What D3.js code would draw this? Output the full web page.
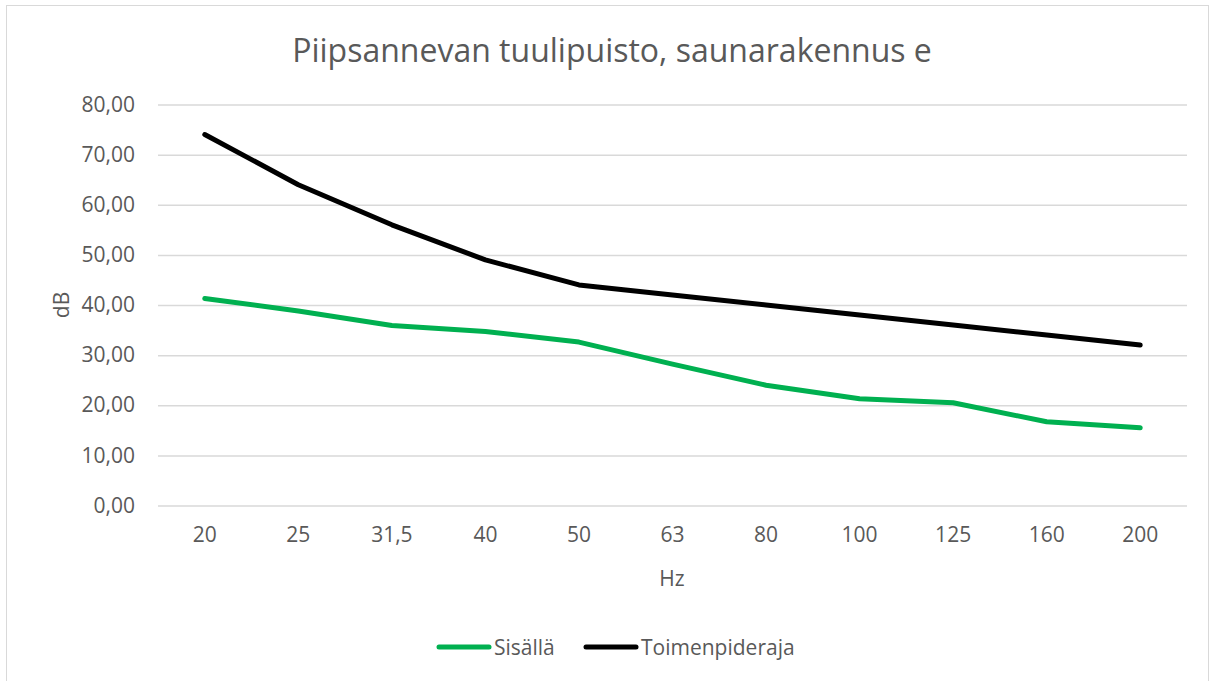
<!DOCTYPE html>
<html lang="fi">
<head>
  <meta charset="UTF-8">
  <title>Piipsannevan tuulipuisto, saunarakennus e</title>
  <script src="https://cdn.jsdelivr.net/npm/d3@7"></script>
  <style>
    body {
      margin: 0;
      padding: 0;
      background: #fff;
      font-family: "Open Sans", "Liberation Sans", Arial, sans-serif;
    }
    .tick text { fill: #595959; }
  </style>
</head>
<body>
  <div id="chart"></div>

  <script>
    // chart data
    var categories = ["20", "25", "31,5", "40", "50", "63", "80", "100", "125", "160", "200"];
    var sisalla = [41.3, 38.8, 35.9, 34.7, 32.6, 28.2, 24.0, 21.3, 20.5, 16.7, 15.5];
    var toimenpideraja = [74, 64, 56, 49, 44, 42, 40, 38, 36, 34, 32];
    var yTicks = [0, 10, 20, 30, 40, 50, 60, 70, 80];
    var seriesNames = ["Sisällä", "Toimenpideraja"];
    var seriesColors = ["#00B050", "#000000"];

    var width = 1217, height = 681;
    var margin = { top: 104.5, right: 30, bottom: 175, left: 158 };
    var plotW = 1187 - margin.left;
    var plotH = 505.5 - margin.top;
    var textColor = "#595959";
    var labelSize = 21;

    var svg = d3.select("#chart")
      .append("svg")
      .attr("width", width)
      .attr("height", height);

    // outer chart border
    svg.append("rect")
      .attr("x", 6.5)
      .attr("y", 5.5)
      .attr("width", 1202)
      .attr("height", 700)
      .attr("fill", "#fff")
      .attr("stroke", "#D9D9D9")
      .attr("stroke-width", 1);

    var g = svg.append("g")
      .attr("transform", "translate(" + margin.left + "," + margin.top + ")");

    var x = d3.scaleBand()
      .domain(categories)
      .range([0, plotW]);

    var y = d3.scaleLinear()
      .domain([0, 80])
      .range([plotH, 0]);

    // gridlines + y labels
    var yAxis = d3.axisLeft(y)
      .tickValues(yTicks)
      .tickSize(-plotW)
      .tickPadding(23)
      .tickFormat(d => d3.format(".2f")(d).replace(".", ","));

    var yg = g.append("g").call(yAxis);
    yg.select(".domain").remove();
    yg.selectAll(".tick line")
      .attr("stroke", "#D9D9D9")
      .attr("stroke-width", 1.5);
    yg.selectAll(".tick text")
      .attr("font-size", labelSize)
      .attr("font-family", "Open Sans, sans-serif");

    // x labels
    var xAxis = d3.axisBottom(x)
      .tickSize(0)
      .tickPadding(22);
    var xg = g.append("g")
      .attr("transform", "translate(0," + plotH + ")")
      .call(xAxis);
    xg.select(".domain").remove();
    xg.selectAll(".tick text")
      .attr("font-size", labelSize)
      .attr("font-family", "Open Sans, sans-serif");

    // lines
    var line = d3.line()
      .x((d, i) => x(categories[i]) + x.bandwidth() / 2)
      .y(d => y(d));

    [sisalla, toimenpideraja].forEach(function (vals, k) {
      g.append("path")
        .datum(vals)
        .attr("fill", "none")
        .attr("stroke", seriesColors[k])
        .attr("stroke-width", 5)
        .attr("stroke-linejoin", "round")
        .attr("stroke-linecap", "round")
        .attr("d", line);
    });

    // title
    svg.append("text")
      .attr("x", 612)
      .attr("y", 62)
      .attr("text-anchor", "middle")
      .attr("fill", textColor)
      .attr("font-size", 32)
      .text("Piipsannevan tuulipuisto, saunarakennus e");

    // axis titles
    svg.append("text")
      .attr("x", 672)
      .attr("y", 586)
      .attr("text-anchor", "middle")
      .attr("fill", textColor)
      .attr("font-size", 21)
      .text("Hz");

    svg.append("text")
      .attr("transform", "translate(69,305) rotate(-90)")
      .attr("text-anchor", "middle")
      .attr("fill", textColor)
      .attr("font-size", 21)
      .text("dB");

    // legend
    var legendItems = [
      { name: seriesNames[0], color: seriesColors[0], x: 439 },
      { name: seriesNames[1], color: seriesColors[1], x: 586 }
    ];
    var lg = svg.append("g").attr("transform", "translate(0,647)");
    legendItems.forEach(function (d) {
      lg.append("line")
        .attr("x1", d.x).attr("x2", d.x + 50)
        .attr("y1", 0).attr("y2", 0)
        .attr("stroke", d.color)
        .attr("stroke-width", 5)
        .attr("stroke-linecap", "round");
      lg.append("text")
        .attr("x", d.x + 55)
        .attr("y", 7.5)
        .attr("fill", textColor)
        .attr("font-size", labelSize)
        .text(d.name);
    });
  </script>
</body>
</html>
